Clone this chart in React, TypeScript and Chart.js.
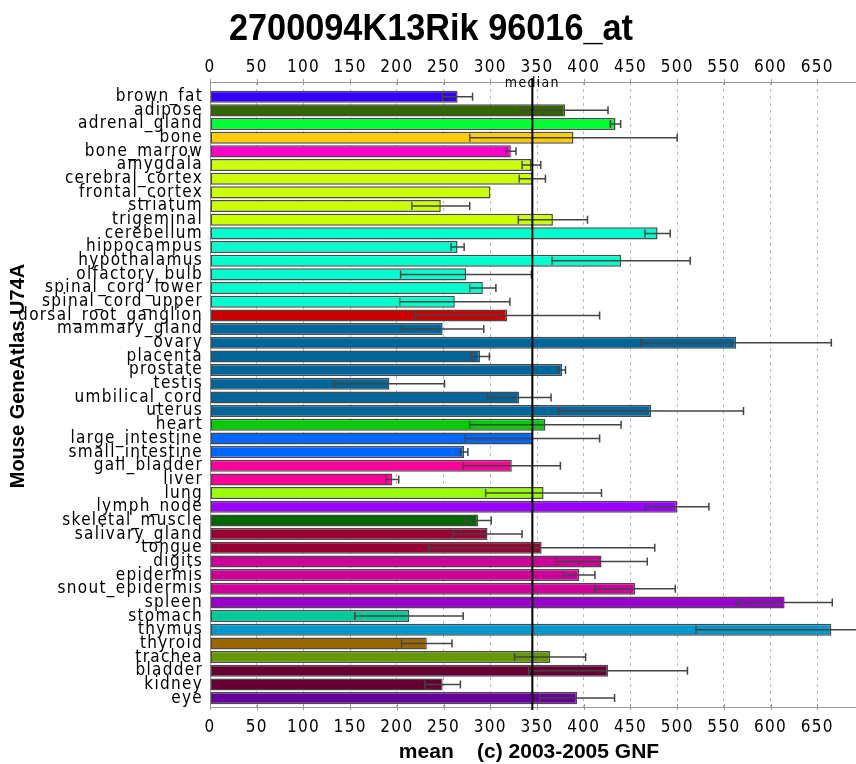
import React, { useEffect, useRef } from 'react';
import { Chart, registerables } from 'chart.js';

Chart.register(...registerables);

const categories = [
  'brown_fat', 'adipose', 'adrenal_gland', 'bone', 'bone_marrow', 'amygdala', 'cerebral_cortex',
  'frontal_cortex', 'striatum', 'trigeminal', 'cerebellum', 'hippocampus', 'hypothalamus',
  'olfactory_bulb', 'spinal_cord_lower', 'spinal_cord_upper', 'dorsal_root_ganglion',
  'mammary_gland', 'ovary', 'placenta', 'prostate', 'testis', 'umbilical_cord', 'uterus', 'heart',
  'large_intestine', 'small_intestine', 'gall_bladder', 'liver', 'lung', 'lymph_node',
  'skeletal_muscle', 'salivary_gland', 'tongue', 'digits', 'epidermis', 'snout_epidermis',
  'spleen', 'stomach', 'thymus', 'thyroid', 'trachea', 'bladder', 'kidney', 'eye',
];

const means = [
  265, 380, 434, 389, 322, 344, 345, 300, 247, 367, 479, 265, 440, 274, 292, 262, 318, 249, 563,
  289, 377, 192, 331, 472, 359, 345, 272, 323, 195, 357, 500, 287, 297, 355, 419, 395, 455, 615,
  213, 665, 232, 364, 426, 249, 393,
];

const sds = [
  16, 46, 5.5, 111, 5.5, 10, 14, 0, 31, 37, 13.5, 7, 74, 70, 14, 59, 99, 44, 102, 10, 3.5, 59,
  34, 99, 81, 72, 4, 52, 7, 62, 34, 14, 37, 121, 49, 17, 43, 51, 58, 145, 27, 38, 85, 19, 40,
];

const colors = [
  '#3300ff', '#336600', '#00ff33', '#ffcc00', '#ff00cc', '#ccff00', '#ccff00', '#ccff00', '#ccff00',
  '#ccff00', '#00ffcc', '#00ffcc', '#00ffcc', '#00ffcc', '#00ffcc', '#00ffcc', '#cc0000', '#006699',
  '#006699', '#006699', '#006699', '#006699', '#006699', '#006699', '#00cc00', '#0066ff', '#0066ff',
  '#ff0099', '#ff0099', '#99ff00', '#9900ff', '#006600', '#990033', '#990033', '#cc0099', '#cc0099',
  '#cc0099', '#9900cc', '#00cc99', '#0099cc', '#996600', '#669900', '#660033', '#660033', '#660099',
];

const xTicks = [0, 50, 100, 150, 200, 250, 300, 350, 400, 450, 500, 550, 600, 650];
const medianValue = 345;
const chartTitle = '2700094K13Rik 96016_at';
const yAxisTitle = 'Mouse GeneAtlas U74A';
const xAxisTitle = 'mean    (c) 2003-2005 GNF';

const NARROW = "'Liberation Sans Narrow', 'DejaVu Sans Condensed', 'Liberation Sans', sans-serif";
const BOLD = "'Liberation Sans', Arial, sans-serif";

const decorPlugin = {
  id: 'decor',
  beforeDraw(chart: any) {
    chart.ctx.letterSpacing = '1.3px';
  },
  beforeDatasetsDraw(chart: any) {
    const { ctx, chartArea } = chart;
    const xs = chart.scales.x;
    ctx.save();
    ctx.strokeStyle = '#999';
    ctx.lineWidth = 1;
    xTicks.forEach((v) => {
      const px = Math.round(xs.getPixelForValue(v)) + 0.5;
      ctx.beginPath();
      ctx.moveTo(px, chartArea.top - 3);
      ctx.lineTo(px, chartArea.top + 3);
      ctx.moveTo(px, chartArea.bottom - 3);
      ctx.lineTo(px, chartArea.bottom + 3);
      ctx.stroke();
    });
    ctx.restore();
  },
  afterDatasetsDraw(chart: any) {
    const { ctx, chartArea } = chart;
    const xs = chart.scales.x;
    const meta = chart.getDatasetMeta(0);
    ctx.save();
    ctx.beginPath();
    ctx.rect(chartArea.left, 0, chartArea.right - chartArea.left, chart.height);
    ctx.clip();
    ctx.strokeStyle = '#444';
    ctx.lineWidth = 1.5;
    meta.data.forEach((bar: any, i: number) => {
      const sd = sds[i];
      if (!sd) return;
      const y = bar.y;
      const x1 = xs.getPixelForValue(means[i] - sd);
      const x2 = xs.getPixelForValue(means[i] + sd);
      ctx.beginPath();
      ctx.moveTo(x1, y);
      ctx.lineTo(x2, y);
      ctx.moveTo(x1, y - 4);
      ctx.lineTo(x1, y + 4);
      ctx.moveTo(x2, y - 4);
      ctx.lineTo(x2, y + 4);
      ctx.stroke();
    });
    const mx = xs.getPixelForValue(medianValue);
    ctx.strokeStyle = '#000';
    ctx.lineWidth = 2;
    ctx.beginPath();
    ctx.moveTo(mx, chartArea.top - 4);
    ctx.lineTo(mx, chartArea.bottom + 3);
    ctx.stroke();
    ctx.fillStyle = '#000';
    ctx.font = `14px ${NARROW}`;
    ctx.textAlign = 'center';
    ctx.textBaseline = 'alphabetic';
    ctx.fillText('median', mx, 87);
    ctx.restore();
  },
  afterDraw(chart: any) {
    const { ctx, chartArea } = chart;
    ctx.save();
    ctx.letterSpacing = '0px';
    ctx.fillStyle = '#000';
    ctx.textAlign = 'center';
    ctx.textBaseline = 'alphabetic';
    ctx.font = `bold 37px ${BOLD}`;
    ctx.fillText(chartTitle, 431, 40, 404);
    ctx.font = `bold 21px ${BOLD}`;
    ctx.fillText(xAxisTitle, (chartArea.left + chartArea.right) / 2 - 4, 758);
    ctx.translate(18, 376);
    ctx.rotate(-Math.PI / 2);
    ctx.textBaseline = 'middle';
    ctx.font = `bold 20px ${BOLD}`;
    ctx.fillText(yAxisTitle, 0, 0);
    ctx.restore();
  },
};

export default function App() {
  const ref = useRef<HTMLCanvasElement | null>(null);

  useEffect(() => {
    if (!ref.current) return;
    const tickFont = { family: NARROW, size: 17 };
    const xSetTicks = (s: any) => {
      s.ticks = xTicks.map((v) => ({ value: v }));
    };
    const chart = new Chart(ref.current, {
      type: 'bar',
      data: {
        datasets: [
          {
            data: means.map((m, i) => ({ x: m, y: i })),
            backgroundColor: colors,
            borderColor: '#4a4a4a',
            borderWidth: 1.5,
            borderSkipped: false,
            barPercentage: 0.88,
            categoryPercentage: 1,
          } as any,
        ],
      },
      options: {
        indexAxis: 'y',
        animation: false,
        responsive: false,
        devicePixelRatio: 1,
        layout: { padding: 0 },
        plugins: { legend: { display: false }, tooltip: { enabled: false }, title: { display: false } },
        scales: {
          x: {
            type: 'linear',
            position: 'bottom',
            min: 0,
            max: 691.4,
            offset: false,
            afterBuildTicks: xSetTicks,
            afterFit: (s: any) => {
              s.height = 57;
            },
            ticks: { autoSkip: false, font: tickFont, color: '#000', padding: 10, maxRotation: 0 },
            grid: { color: '#bbb', lineWidth: 1, drawTicks: false, offset: false },
            border: { display: true, color: '#999', width: 1, dash: [3, 4] },
          },
          x2: {
            type: 'linear',
            position: 'top',
            min: 0,
            max: 691.4,
            offset: false,
            afterBuildTicks: xSetTicks,
            afterFit: (s: any) => {
              s.height = 82;
            },
            ticks: { autoSkip: false, font: tickFont, color: '#000', padding: 4, maxRotation: 0 },
            grid: { display: false, drawTicks: false },
            border: { display: true, color: '#999', width: 1 },
          },
          y: {
            type: 'linear',
            reverse: true,
            offset: false,
            min: -1.075,
            max: 44.65,
            afterBuildTicks: (s: any) => {
              s.ticks = categories.map((_, i) => ({ value: i }));
            },
            afterFit: (s: any) => {
              s.width = 210;
            },
            ticks: {
              autoSkip: false,
              font: tickFont,
              color: '#000',
              padding: 7,
              callback: (v: any) => categories[v as number],
            },
            grid: { display: false, drawTicks: false, offset: false },
            border: { display: true, color: '#999', width: 1 },
          },
        } as any,
      },
      plugins: [decorPlugin],
    });
    return () => chart.destroy();
  }, []);

  return (
    <div style={{ position: 'fixed', left: 0, top: 0, width: 856, height: 764, background: '#fff' }}>
      <canvas ref={ref} width={856} height={764} style={{ display: 'block' }} />
    </div>
  );
}
